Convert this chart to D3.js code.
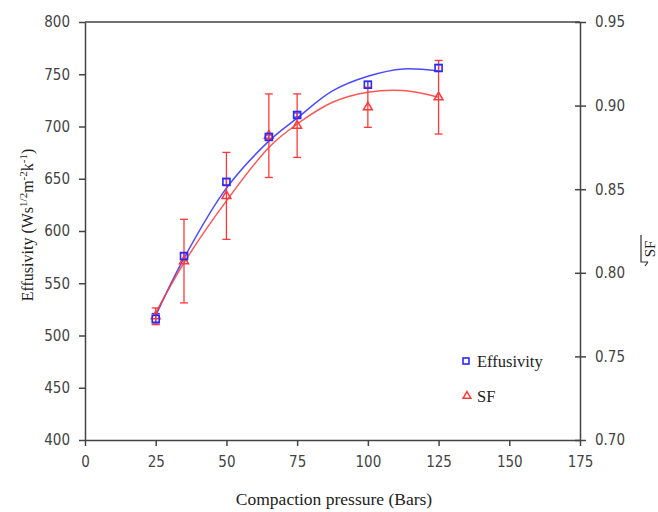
<!DOCTYPE html>
<html><head><meta charset="utf-8">
<script src="https://cdn.jsdelivr.net/npm/d3@7"></script>
<style>body{margin:0;background:#fff}</style>
</head><body>
<svg id="c" width="658" height="512"></svg>
<script>
// Data
const pressure = [25, 35, 50, 65, 75, 100, 125];
const effusivity = [516, 576, 647, 690, 711, 740, 756];
const effusivityErr = [5, 3, 3, 2, 2, 3, 3];
const sf = [0.774, 0.807, 0.846, 0.882, 0.888, 0.899, 0.905];
const sfErr = [0.005, 0.025, 0.026, 0.025, 0.019, 0.012, 0.022];
// trend lines
const trendX = [25, 35, 50, 65, 75, 87.5, 100, 112.5, 125];
const effTrend = [519, 574, 641, 686, 708, 734, 748, 755, 753];
const sfTrend = [0.776, 0.806, 0.843, 0.875, 0.889, 0.902, 0.908, 0.909, 0.905];
const xTicks = [0, 25, 50, 75, 100, 125, 150, 175];
const yTicks = [400, 450, 500, 550, 600, 650, 700, 750, 800];
const y2Ticks = [0.70, 0.75, 0.80, 0.85, 0.90, 0.95];

const svg = d3.select('#c');
const L = 85, R = 580, T = 22, B = 440;
const x = d3.scaleLinear().domain([0, 175]).range([L, R]);
const y = d3.scaleLinear().domain([400, 800]).range([B, T]);
const y2 = d3.scaleLinear().domain([0.70, 0.95]).range([B, T]);
const axisCol = '#444';
const tickFont = '"DejaVu Sans Condensed", "DejaVu Sans", sans-serif';
const serif = '"Liberation Serif", "Times New Roman", serif';
const blue = '#2a2aff', red = '#ff3838';

// top frame line
svg.append('line').attr('x1', L).attr('x2', R).attr('y1', T).attr('y2', T)
  .attr('stroke', axisCol).attr('stroke-width', 1.5);

function styleAxis(g) {
  g.selectAll('.domain').attr('stroke', axisCol).attr('stroke-width', 1.5);
  g.selectAll('.tick line').attr('stroke', axisCol).attr('stroke-width', 1.5);
  g.selectAll('.tick text').attr('fill', '#444').style('font-family', tickFont).style('font-size', '15px');
}
const gx = svg.append('g').attr('transform', `translate(0,${B})`)
  .call(d3.axisBottom(x).tickValues(xTicks).tickSize(6).tickSizeOuter(0).tickPadding(10));
styleAxis(gx);
const gy = svg.append('g').attr('transform', `translate(${L},0)`)
  .call(d3.axisLeft(y).tickValues(yTicks).tickSize(6).tickSizeOuter(0).tickPadding(9));
styleAxis(gy);
const gy2 = svg.append('g').attr('transform', `translate(${R},0)`)
  .call(d3.axisRight(y2).tickValues(y2Ticks).tickFormat(d3.format('.2f')).tickSize(6).tickSizeOuter(0).tickPadding(9));
styleAxis(gy2);
gy2.selectAll('.tick line').attr('x1', -5);

// trend lines
const line = d3.line().curve(d3.curveCatmullRom.alpha(0.5));
svg.append('path').attr('d', line(trendX.map((d, i) => [x(d), y(effTrend[i])])))
  .attr('fill', 'none').attr('stroke', blue).attr('stroke-width', 1.5).attr('opacity', 0.85);
svg.append('path').attr('d', line(trendX.map((d, i) => [x(d), y2(sfTrend[i])])))
  .attr('fill', 'none').attr('stroke', red).attr('stroke-width', 1.5).attr('opacity', 0.85);

// error bars
function errBars(vals, errs, scale, color) {
  const g = svg.append('g').attr('stroke', color).attr('stroke-width', 1.3);
  pressure.forEach((p, i) => {
    const cx = x(p), y1 = scale(vals[i] + errs[i]), yb = scale(vals[i] - errs[i]);
    g.append('line').attr('x1', cx).attr('x2', cx).attr('y1', y1).attr('y2', yb);
    g.append('line').attr('x1', cx - 4).attr('x2', cx + 4).attr('y1', y1).attr('y2', y1);
    g.append('line').attr('x1', cx - 4).attr('x2', cx + 4).attr('y1', yb).attr('y2', yb);
  });
}
errBars(effusivity, effusivityErr, y, blue);
errBars(sf, sfErr, y2, red);

// markers
const tri = d3.symbol().type(d3.symbolTriangle).size(34);
svg.append('g').selectAll('path').data(pressure).join('path')
  .attr('d', tri).attr('transform', (d, i) => `translate(${x(d)},${y2(sf[i])})`)
  .attr('fill', 'none').attr('stroke', red).attr('stroke-width', 1.5);
svg.append('g').selectAll('rect').data(pressure).join('rect')
  .attr('x', d => x(d) - 3.5).attr('y', (d, i) => y(effusivity[i]) - 3.5)
  .attr('width', 7).attr('height', 7)
  .attr('fill', 'none').attr('stroke', blue).attr('stroke-width', 1.6);

// legend
svg.append('rect').attr('x', 463).attr('y', 358).attr('width', 6).attr('height', 6)
  .attr('fill', 'none').attr('stroke', blue).attr('stroke-width', 1.6);
svg.append('text').attr('x', 477).attr('y', 367).text('Effusivity')
  .style('font-family', serif).style('font-size', '16.5px').attr('fill', '#222');
svg.append('path').attr('d', d3.symbol().type(d3.symbolTriangle).size(26)())
  .attr('transform', 'translate(467,396)').attr('fill', 'none').attr('stroke', red).attr('stroke-width', 1.5);
svg.append('text').attr('x', 477).attr('y', 402).text('SF')
  .style('font-family', serif).style('font-size', '16.5px').attr('fill', '#222');

// axis titles
svg.append('text').attr('x', 334).attr('y', 505).attr('text-anchor', 'middle')
  .text('Compaction pressure (Bars)').style('font-family', serif).style('font-size', '17.5px').attr('fill', '#222');
const yl = svg.append('text').attr('transform', 'translate(33,225) rotate(-90)').attr('text-anchor', 'middle')
  .style('font-family', serif).style('font-size', '16px').attr('fill', '#222');
yl.append('tspan').text('Effusivity (Ws');
yl.append('tspan').attr('dy', -6).style('font-size', '11px').text('1/2');
yl.append('tspan').attr('dy', 6).text('m');
yl.append('tspan').attr('dy', -6).style('font-size', '11px').text('-2');
yl.append('tspan').attr('dy', 6).text('k');
yl.append('tspan').attr('dy', -6).style('font-size', '11px').text('-1');
yl.append('tspan').attr('dy', 6).text(')');

// right title: sqrt(SF)
svg.append('text').attr('transform', 'translate(655,249) rotate(-90)').attr('text-anchor', 'middle')
  .text('SF').style('font-family', serif).style('font-size', '15px').attr('fill', '#222');
svg.append('path').attr('d', 'M641,235 L641,262 L648,262 M645,266 L648,262')
  .attr('fill', 'none').attr('stroke', '#333').attr('stroke-width', 1.2);
</script>
</body></html>
